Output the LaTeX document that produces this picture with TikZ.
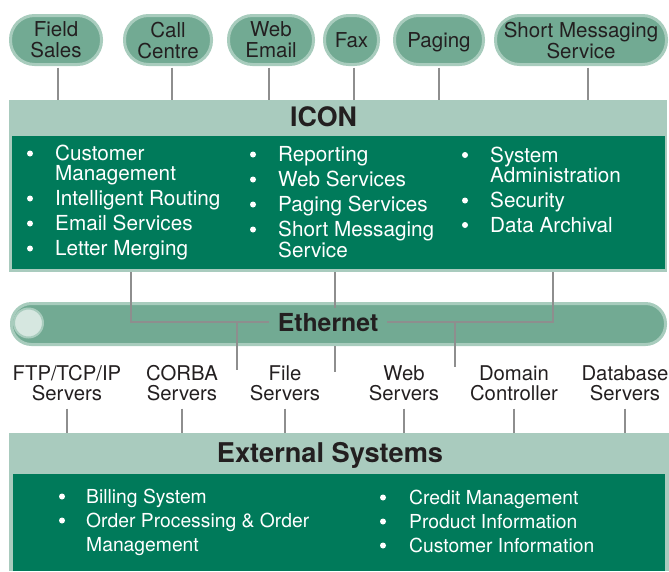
\documentclass[tikz,border=0pt]{standalone}
\usepackage{fontspec}
\setmainfont{TeX Gyre Heros}
\definecolor{pillfg}{HTML}{72AA93}
\definecolor{pillbd}{HTML}{A8CCBD}
\definecolor{lightg}{HTML}{A9CBBE}
\definecolor{darkg}{HTML}{007A5A}
\definecolor{pale}{HTML}{D6E7E0}
\definecolor{conn}{HTML}{8E8E8E}
\definecolor{ink}{HTML}{231F20}
\begin{document}
\begin{tikzpicture}[x=1pt,y=-1pt,
 pill/.style={draw=pillbd, fill=pillfg, line width=3pt, rounded corners=24pt, minimum height=49pt, inner sep=0pt, align=center, text=ink, font=\fontsize{20.5}{21}\selectfont, text depth=0pt},
 panel/.style={inner sep=0pt, outer sep=0pt, draw=none},
 hdr/.style={inner sep=0pt, text=ink, font=\bfseries\fontsize{26.8}{28}\selectfont, anchor=base},
 itm/.style={anchor=base west, inner sep=0pt, text=white, font=\fontsize{20.7}{22}\selectfont},
 eitm/.style={itm, font=\fontsize{19.3}{22}\selectfont},
 srv/.style={anchor=base, inner sep=0pt, text=ink, font=\fontsize{20.3}{22}\selectfont},
 link/.style={draw=conn, line width=1.2pt},
]
\useasboundingbox (0,0) rectangle (669,571);
\newcommand\dotb[2]{\fill[white] (#1,#2-7) circle (3pt);}

% top channel pills
\node[pill, minimum width=91pt] (fs)  at (56,40)    {Field\\Sales};
\node[pill, minimum width=87pt] (cc)  at (168,40)   {Call\\Centre};
\node[pill, minimum width=85pt] (we)  at (271,40)   {Web\\Email};
\node[pill, minimum width=54pt] (fax) at (351.5,40) {Fax};
\node[pill, minimum width=89pt] (pg)  at (439,40)   {Paging};
\node[pill, minimum width=171pt] (sms) at (581,40)  {Short Messaging\\Service};

% ICON panel
\node[panel, fill=lightg, minimum width=658pt, minimum height=172pt] (icon) at (338,186) {};
\node[panel, fill=darkg, minimum width=653pt, minimum height=133pt] (iconbody) at (338.5,202.5) {};
\node[hdr] (iconlbl) at (323.5,126.5) {ICON};

% connectors from pills
\coordinate (fsb)  at ([xshift=2pt,yshift=-1.5pt]fs.south);
\coordinate (ccb)  at ([xshift=4pt,yshift=-1.5pt]cc.south);
\coordinate (web)  at ([xshift=-2pt,yshift=-1.5pt]we.south);
\coordinate (faxb) at ([xshift=2.5pt,yshift=-1.5pt]fax.south);
\coordinate (pgb)  at ([yshift=-1.5pt]pg.south);
\coordinate (smsb) at ([xshift=7pt,yshift=-1.5pt]sms.south);
\foreach \c in {fsb,ccb,web,faxb,pgb,smsb}
  \draw[link] (\c) -- (\c |- icon.north);

% ICON items, column 1
\dotb{30}{160.5}  \node[itm] at (55,160.5) {Customer};
                  \node[itm] at (55,180.5) {Management};
\dotb{30}{205.5}  \node[itm] at (55,205.5) {Intelligent Routing};
\dotb{30}{230.5}  \node[itm] at (55,230.5) {Email Services};
\dotb{30}{255.5}  \node[itm] at (55,255.5) {Letter Merging};
% column 2
\dotb{253}{161.5} \node[itm] at (278,161.5) {Reporting};
\dotb{253}{186.5} \node[itm] at (278,186.5) {Web Services};
\dotb{253}{211.5} \node[itm] at (278,211.5) {Paging Services};
\dotb{253}{236.5} \node[itm] at (278,236.5) {Short Messaging};
                  \node[itm] at (278,257.5) {Service};
% column 3
\dotb{465}{162}   \node[itm] at (490,162) {System};
                  \node[itm] at (490,182) {Administration};
\dotb{465}{207.5} \node[itm] at (490,207.5) {Security};
\dotb{465}{232}   \node[itm] at (490,232) {Data Archival};

% Ethernet bar
\node[draw=pillbd, fill=pillfg, line width=3pt, rounded corners=20pt, minimum width=654pt, minimum height=41pt, inner sep=0pt] (eth) at (338.5,324) {};
\node[circle, draw=pillbd, fill=pale, line width=2pt, minimum size=29pt, inner sep=0pt] (ethc) at (28.5,323) {};
\node[inner xsep=9pt, inner ysep=0pt, text depth=0pt, text=ink, font=\bfseries\fontsize{24.8}{26}\selectfont] (ethl) at (328,322) {Ethernet};

% ICON to Ethernet
\coordinate (d1) at (131,272);
\coordinate (d3) at (553,272);
\draw[link] (d1) |- (ethl.west);
\draw[link] (d3) |- (ethl.east);
\coordinate (m1) at (335,272);
\coordinate (m2) at (335,308);
\coordinate (m3) at (335,346);
\coordinate (m4) at (335,372);
\draw[link] (m1) -- (m2);
\draw[link] (m3) -- (m4);
\coordinate (b1) at (237,322);
\coordinate (b1e) at (237,370);
\coordinate (b2) at (455,322);
\coordinate (b2e) at (455,367);
\draw[link] (b1) -- (b1e);
\draw[link] (b2) -- (b2e);

% server labels
\node[srv] (ftp1) at (67,380) {FTP/TCP/IP};     \node[srv] (ftp2) at (67,400) {Servers};
\node[srv] (corba1) at (182,380) {CORBA};       \node[srv] (corba2) at (182,400) {Servers};
\node[srv] (file1) at (285,380) {File};         \node[srv] (file2) at (285,400) {Servers};
\node[srv] (web1) at (404,380) {Web};           \node[srv] (web2) at (404,400) {Servers};
\node[srv] (dom1) at (514,380) {Domain};        \node[srv] (dom2) at (514,400) {Controller};
\node[srv] (db1) at (625,380) {Database};       \node[srv] (db2) at (625,400) {Servers};

% External Systems panel
\node[panel, fill=lightg, minimum width=660pt, minimum height=138pt] (ext) at (339,502) {};
\node[panel, fill=darkg, minimum width=652pt, minimum height=97pt] (extbody) at (339,522.5) {};
\node[hdr, font=\bfseries\fontsize{27.2}{28}\selectfont] (extlbl) at (330,462.5) {External Systems};

\foreach \n in {ftp,corba,file,web,dom,db}{
  \coordinate (\n-s) at ([yshift=-8pt]\n2.south);
  \draw[link] (\n-s) -- (\n-s |- ext.north);
}

% External items
\dotb{62}{503.5}  \node[eitm] at (86,503.5) {Billing System};
\dotb{62}{527.5}  \node[eitm] at (86,527.5) {Order Processing \& Order};
                  \node[eitm] at (86,551.5) {Management};
\dotb{383}{504.5} \node[eitm] at (409,504.5) {Credit Management};
\dotb{383}{528.5} \node[eitm] at (409,528.5) {Product Information};
\dotb{383}{552.5} \node[eitm] at (409,552.5) {Customer Information};
\end{tikzpicture}
\end{document}
